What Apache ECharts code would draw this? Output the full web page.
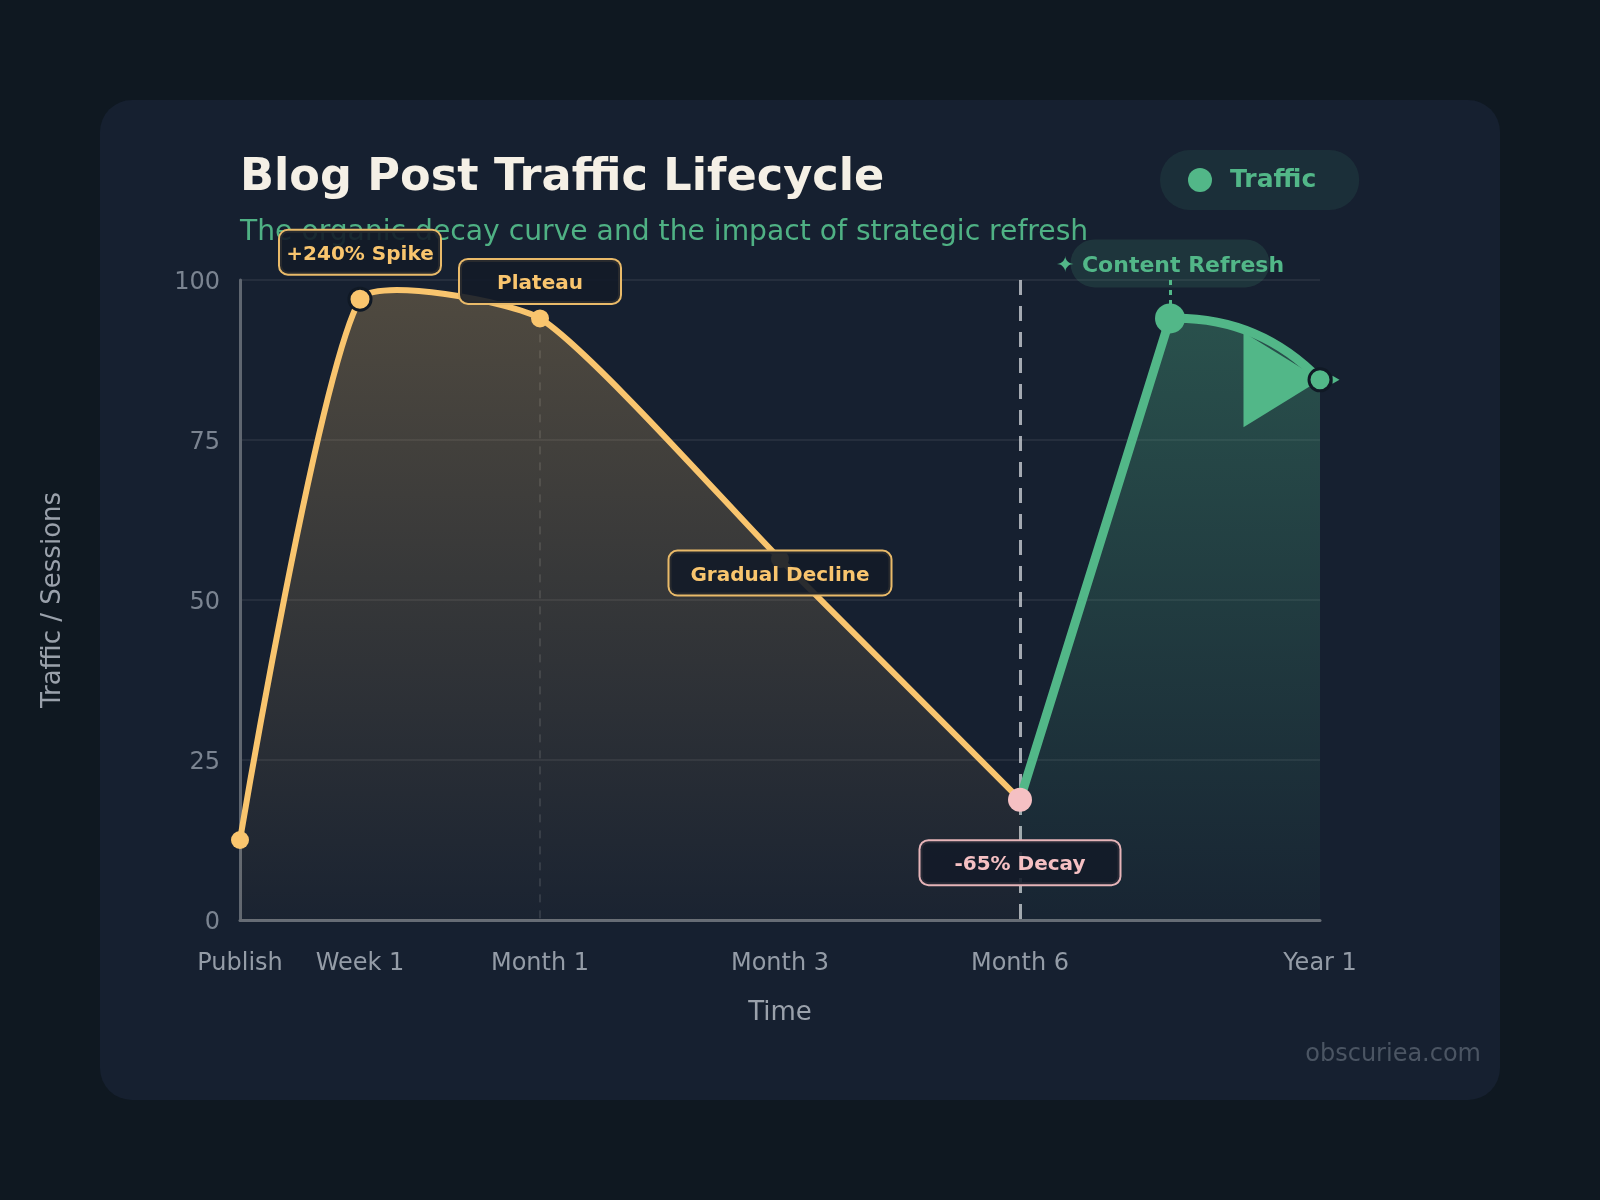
<!DOCTYPE html>
<html>
<head>
<meta charset="utf-8">
<script src="https://cdn.jsdelivr.net/npm/echarts@6/dist/echarts.min.js"></script>
<style>
html,body{margin:0;padding:0;background:#0f1821;}
#chart{width:1600px;height:1200px;}
</style>
</head>
<body>
<div id="chart"></div>
<script>
// ---- data ----
const tickPositions = [0, 1, 2.5, 4.5, 6.5, 9];
const tickLabels = ['Publish', 'Week 1', 'Month 1', 'Month 3', 'Month 6', 'Year 1'];
const organicX = [0, 1, 2.5, 4.5, 6.5];
const organicY = [12.5, 97, 94, 56.4, 18.8];
const refreshX = [6.5, 7.75, 9];
const refreshY = [18.8, 94, 84.4];
const annotationText = ['+240% Spike', 'Plateau', 'Gradual Decline', '-65% Decay'];
const annotationAnchor = [1, 2, 3, 4];
const refreshLabel = '\u2726 Content Refresh';

// ---- styling ----
const FONT = 'DejaVu Sans';
const ORANGE = '#f9c56e';
const GREEN = '#52b788';
const PINK = '#f5c0c3';
const DARK = '#101925';
const SMOOTH = 0.18;
const CURVE = 0.22;

const organicData = organicX.map((x, i) => [x, organicY[i]]);
const refreshData = refreshX.map((x, i) => [x, refreshY[i]]);

const orangeSymbolStyle = [
  { size: 18, color: ORANGE, bw: 0 },
  { size: 22, color: ORANGE, bw: 3 },
  { size: 18, color: ORANGE, bw: 0 },
  { size: 18, color: ORANGE, bw: 0 },
  { size: 24, color: PINK, bw: 0 }
];
const annoStyle = [
  { dy: -47, w: 160, color: ORANGE, border: '#e9ba69' },
  { dy: -37, w: 160, color: ORANGE, border: '#e9ba69' },
  { dy: 14, w: 221, color: ORANGE, border: '#e9ba69' },
  { dy: 63, w: 199, color: PINK, border: '#e6b4b8' }
];
const TEXT_SHIFT = 2.5;

// Bezier path through pixel points (cardinal-style smoothing)
function smoothPath(pts, s) {
  const n = pts.length;
  const cps = [];
  for (let i = 0; i < n; i++) {
    if (i === 0 || i === n - 1) { cps.push([pts[i], pts[i]]); continue; }
    const p = pts[i], a = pts[i - 1], b = pts[i + 1];
    const vx = (b[0] - a[0]) * s, vy = (b[1] - a[1]) * s;
    let d0 = Math.hypot(p[0] - a[0], p[1] - a[1]);
    let d1 = Math.hypot(b[0] - p[0], b[1] - p[1]);
    const sum = d0 + d1; d0 /= sum; d1 /= sum;
    cps.push([[p[0] - vx * d0, p[1] - vy * d0], [p[0] + vx * d1, p[1] + vy * d1]]);
  }
  let d = 'M' + pts[0][0] + ',' + pts[0][1];
  for (let i = 0; i < n - 1; i++) {
    const c1 = cps[i][1], c2 = cps[i + 1][0], q = pts[i + 1];
    d += ' C' + c1[0] + ',' + c1[1] + ' ' + c2[0] + ',' + c2[1] + ' ' + q[0] + ',' + q[1];
  }
  return d;
}

const chart = echarts.init(document.getElementById('chart'), null, { renderer: 'canvas' });

const orangeArea = new echarts.graphic.LinearGradient(0, 0, 0, 1, [
  { offset: 0, color: 'rgba(249,197,110,0.25)' },
  { offset: 1, color: 'rgba(249,197,110,0.02)' }
]);
const greenArea = new echarts.graphic.LinearGradient(0, 0, 0, 1, [
  { offset: 0, color: 'rgba(82,183,136,0.32)' },
  { offset: 1, color: 'rgba(82,183,136,0.03)' }
]);

// annotation boxes (box item with hidden text + text item slightly lower)
const annoItems = [];
annotationText.forEach((t, k) => {
  const s = annoStyle[k];
  const coord = organicData[annotationAnchor[k]];
  annoItems.push({
    coord,
    label: {
      show: true, position: 'inside', offset: [0, s.dy], formatter: t, color: 'rgba(0,0,0,0)',
      fontFamily: FONT, fontSize: 20, fontWeight: 'bold', lineHeight: 20,
      backgroundColor: 'rgba(19,27,40,0.9)', borderColor: s.border, borderWidth: 2, borderRadius: 8,
      width: s.w, align: 'center', padding: [11.5, 0, 11.5, 0]
    }
  });
  annoItems.push({
    coord,
    label: {
      show: true, position: 'inside', offset: [0, s.dy + TEXT_SHIFT], formatter: t, color: s.color,
      fontFamily: FONT, fontSize: 20, fontWeight: 'bold', lineHeight: 20
    }
  });
});

const option = {
  animation: false,
  backgroundColor: '#0f1821',
  textStyle: { fontFamily: FONT },
  graphic: [
    { type: 'rect', z: 0, silent: true, shape: { x: 100, y: 100, width: 1400, height: 1000, r: 32 }, style: { fill: '#162030' } },
    { type: 'text', z: 1, silent: true, right: 119, top: 1043, style: { text: 'obscuriea.com', fill: '#4b5563', font: '24px "DejaVu Sans"' } }
  ],
  title: [
    { text: 'Blog Post Traffic Lifecycle', left: 240, top: 156, padding: 0, z: 1,
      textStyle: { color: '#f5f0e6', fontSize: 44.6, fontWeight: 'bold', fontFamily: FONT } },
    { text: 'The organic decay curve and the impact of strategic refresh', left: 240, top: 219, padding: 0, z: 1,
      textStyle: { color: '#4fb184', fontSize: 28.2, fontWeight: 'normal', fontFamily: FONT } }
  ],
  legend: {
    data: [{ name: 'Traffic', icon: 'circle' }],
    left: 1160, top: 150,
    itemWidth: 24, itemHeight: 24,
    backgroundColor: 'rgba(82,183,136,0.1)',
    borderRadius: 30,
    padding: [17.5, 43, 17.5, 28],
    selectedMode: false,
    textStyle: { color: GREEN, fontSize: 25, fontWeight: 'bold', fontFamily: FONT, padding: [0, 0, 0, 13] }
  },
  grid: { left: 240, right: 280, top: 280, bottom: 280, containLabel: false, outerBoundsMode: 'none' },
  xAxis: {
    type: 'value', min: 0, max: 9,
    axisLine: { show: true, onZero: false, lineStyle: { color: '#666c75', width: 3 } },
    axisTick: { show: false },
    splitLine: { show: false },
    axisLabel: {
      customValues: tickPositions,
      formatter: v => { const k = tickPositions.indexOf(v); return k >= 0 ? tickLabels[k] : ''; },
      color: '#949ca7', fontSize: 24, fontFamily: FONT, margin: 32
    },
    name: 'Time', nameLocation: 'middle', nameGap: 80,
    nameTextStyle: { color: '#9aa1ab', fontSize: 26, fontFamily: FONT }
  },
  yAxis: {
    type: 'value', min: 0, max: 100, interval: 25,
    axisLine: { show: true, lineStyle: { color: '#5f6670', width: 3 } },
    axisTick: { show: false },
    axisLabel: {
      margin: 20,
      formatter: '{v|{value}}',
      rich: { v: { color: '#7b8491', fontSize: 24, fontFamily: FONT, padding: [5, 0, 0, 0] } }
    },
    splitLine: { lineStyle: { color: 'rgba(255,255,255,0.09)', width: 1.5 } },
    name: 'Traffic / Sessions', nameLocation: 'middle', nameGap: 174,
    nameTextStyle: { color: '#9aa1ab', fontSize: 26, fontFamily: FONT }
  },
  series: [
    {
      // organic curve + area
      name: 'Organic', type: 'custom', coordinateSystem: 'cartesian2d', z: 3,
      itemStyle: { color: ORANGE },
      data: organicData,
      renderItem: (params, api) => {
        if (params.dataIndex !== 0) return null;
        const pts = organicData.map(p => api.coord(p));
        const base = api.coord([organicX[0], 0])[1];
        const line = smoothPath(pts, SMOOTH);
        const last = pts[pts.length - 1];
        return {
          type: 'group',
          children: [
            { type: 'path', z2: 0, shape: { pathData: line + ' L' + last[0] + ',' + base + ' L' + pts[0][0] + ',' + base + ' Z' },
              style: { fill: orangeArea, stroke: null } },
            { type: 'path', z2: 1, shape: { pathData: line },
              style: { fill: null, stroke: ORANGE, lineWidth: 6, lineJoin: 'round', lineCap: 'round' } }
          ]
        };
      },
      markLine: {
        z: 1, silent: true, animation: false, symbol: ['none', 'none'], label: { show: false },
        data: [[
          { coord: organicData[2], lineStyle: { color: 'rgba(255,255,255,0.14)', width: 1.5, type: [8, 8] } },
          { coord: [organicX[2], 0] }
        ]]
      }
    },
    {
      // refresh jump + recovery curve + area
      name: 'Traffic', type: 'custom', coordinateSystem: 'cartesian2d', z: 2,
      itemStyle: { color: GREEN },
      data: refreshData,
      renderItem: (params, api) => {
        if (params.dataIndex !== 0) return null;
        const [a, b, c] = refreshData.map(p => api.coord(p));
        const base = api.coord([refreshX[0], 0])[1];
        const cp = [(b[0] + c[0]) / 2 - (b[1] - c[1]) * CURVE, (b[1] + c[1]) / 2 - (c[0] - b[0]) * CURVE];
        const line = 'M' + a[0] + ',' + a[1] + ' L' + b[0] + ',' + b[1] + ' Q' + cp[0] + ',' + cp[1] + ' ' + c[0] + ',' + c[1];
        return {
          type: 'group',
          children: [
            { type: 'path', z2: 0, shape: { pathData: line + ' L' + c[0] + ',' + base + ' L' + a[0] + ',' + base + ' Z' },
              style: { fill: greenArea, stroke: null } },
            { type: 'path', z2: 1, shape: { pathData: line },
              style: { fill: null, stroke: GREEN, lineWidth: 9, lineJoin: 'round' } }
          ]
        };
      },
      markLine: {
        z: 1, silent: true, animation: false, symbol: ['none', 'none'], label: { show: false },
        data: [[
          { coord: [refreshX[0], 100], lineStyle: { color: 'rgba(200,204,210,0.8)', width: 3, type: [15, 11] } },
          { coord: [refreshX[0], 0] }
        ]]
      },
      markPoint: {
        z: 4, silent: true, animation: false, label: { show: false },
        data: [
          { coord: refreshData[2], symbol: 'triangle', symbolSize: [95, 77], symbolRotate: -90, symbolOffset: [-38, 0], itemStyle: { color: GREEN, opacity: 1 } },
          { coord: refreshData[2], symbol: 'triangle', symbolSize: [8, 7], symbolRotate: -90, symbolOffset: [16, 0], itemStyle: { color: GREEN, opacity: 1 } }
        ]
      }
    },
    {
      name: 'Organic', type: 'scatter', z: 5,
      itemStyle: { opacity: 1 },
      data: organicData.map((p, i) => ({
        value: p,
        symbolSize: orangeSymbolStyle[i].size,
        itemStyle: { color: orangeSymbolStyle[i].color, borderColor: DARK, borderWidth: orangeSymbolStyle[i].bw, opacity: 1 }
      })),
      markPoint: {
        z: 10, silent: true, animation: false,
        symbol: 'circle', symbolSize: 1, itemStyle: { color: 'rgba(0,0,0,0)' },
        data: annoItems
      }
    },
    {
      name: 'Traffic', type: 'scatter', z: 6,
      itemStyle: { opacity: 1 },
      data: refreshData.slice(1).map((p, i) => ({
        value: p,
        symbolSize: i === 0 ? 30 : 22,
        itemStyle: { color: GREEN, borderColor: DARK, borderWidth: i === 0 ? 0 : 3, opacity: 1 }
      })),
      markLine: {
        z: 5, silent: true, animation: false, symbol: ['none', 'none'], label: { show: false },
        data: [[
          { coord: [refreshX[1], 100], lineStyle: { color: GREEN, width: 3, type: [5, 5] } },
          { coord: refreshData[1] }
        ]]
      },
      markPoint: {
        z: 7, silent: true, animation: false,
        symbol: 'circle', symbolSize: 1, itemStyle: { color: 'rgba(0,0,0,0)' },
        data: [
          {
            coord: refreshData[1],
            label: {
              show: true, position: 'inside', offset: [0, -55],
              formatter: refreshLabel, color: 'rgba(0,0,0,0)',
              fontFamily: FONT, fontSize: 22, fontWeight: 'bold', lineHeight: 22,
              backgroundColor: 'rgba(82,183,136,0.14)', borderRadius: 24,
              width: 199, align: 'center', padding: [13, 0, 13, 0]
            }
          },
          {
            coord: refreshData[1],
            label: {
              show: true, position: 'inside', offset: [0, -52],
              formatter: refreshLabel, color: GREEN,
              fontFamily: FONT, fontSize: 22, fontWeight: 'bold', lineHeight: 22
            }
          }
        ]
      }
    }
  ]
};
chart.setOption(option);
</script>
</body>
</html>
